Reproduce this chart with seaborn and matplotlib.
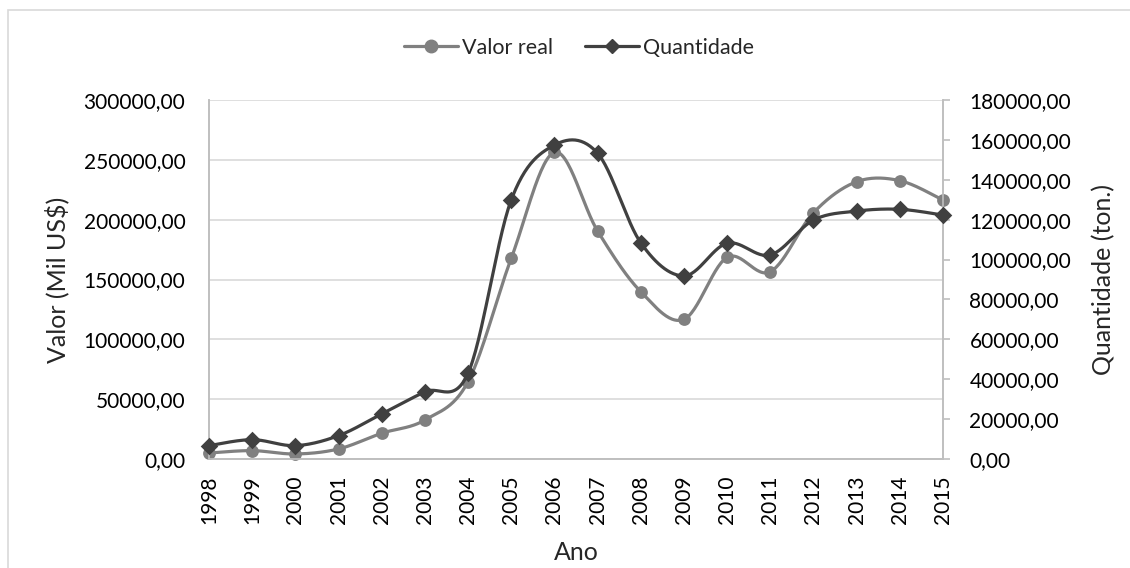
import numpy as np
import pandas as pd
import matplotlib.pyplot as plt
import seaborn as sns
from matplotlib.lines import Line2D
from matplotlib.patches import Rectangle

anos = list(range(1998, 2016))
valor_real = [5000, 7000, 4200, 8400, 21500, 32600, 64600, 167700, 256300, 190500,
              139800, 116700, 168500, 156500, 205800, 231700, 232600, 216400]
quantidade = [6700, 9700, 6700, 11700, 22600, 33700, 43000, 129900, 157400, 153300,
              108400, 91800, 108200, 102300, 119800, 124300, 125200, 122300]

cor_valor = '#808080'
cor_qtd = '#404040'


def suavizar(x, y, n=30):
    # curva tipo Catmull-Rom, parecida com a "linha suavizada" do Excel
    x = np.asarray(x, float)
    y = np.asarray(y, float)
    px = np.concatenate([[x[0]], x, [x[-1]]])
    py = np.concatenate([[y[0]], y, [y[-1]]])
    xs, ys = [], []
    t = np.linspace(0, 1, n)
    for i in range(1, len(px) - 2):
        for p, out in ((px, xs), (py, ys)):
            p0, p1, p2, p3 = p[i - 1], p[i], p[i + 1], p[i + 2]
            c1 = p1 + (p2 - p0) / 6
            c2 = p2 - (p3 - p1) / 6
            out.extend((1 - t) ** 3 * p1 + 3 * (1 - t) ** 2 * t * c1
                       + 3 * (1 - t) * t ** 2 * c2 + t ** 3 * p2)
    return np.array(xs), np.array(ys)


df = pd.DataFrame({'Ano': anos, 'Valor real': valor_real, 'Quantidade': quantidade})
sx1, sy1 = suavizar(df['Ano'], df['Valor real'])
sx2, sy2 = suavizar(df['Ano'], df['Quantidade'])
curva1 = pd.DataFrame({'x': sx1, 'y': sy1})
curva2 = pd.DataFrame({'x': sx2, 'y': sy2})

sns.set_theme(style='white')
plt.rcParams['font.family'] = ['Lato', 'DejaVu Sans']

fig = plt.figure(figsize=(11.3, 5.68), dpi=100)
ax = fig.add_axes([209 / 1130, 1 - 459 / 568, (943 - 209) / 1130, (459 - 100) / 568])
ax2 = ax.twinx()

sns.lineplot(data=curva1, x='x', y='y', ax=ax, color=cor_valor, linewidth=2.3,
             sort=False, estimator=None)
sns.scatterplot(data=df, x='Ano', y='Valor real', ax=ax, color=cor_valor, s=85,
                marker='o', edgecolor=cor_valor, linewidth=0, clip_on=False, zorder=3)
sns.lineplot(data=curva2, x='x', y='y', ax=ax2, color=cor_qtd, linewidth=2.3,
             sort=False, estimator=None)
sns.scatterplot(data=df, x='Ano', y='Quantidade', ax=ax2, color=cor_qtd, s=80,
                marker='D', edgecolor=cor_qtd, linewidth=0, clip_on=False, zorder=3)

ax.set_xlim(1998, 2015)
ax.set_ylim(0, 300000)
ax2.set_ylim(0, 180000)
ax.set_xticks(anos)
ax.set_xticklabels([str(a) for a in anos], rotation=90)
ax.set_yticks(range(0, 300001, 50000))
ax.set_yticklabels([f'{v},00' for v in range(0, 300001, 50000)])
ax2.set_yticks(range(0, 180001, 20000))
ax2.set_yticklabels([f'{v},00' for v in range(0, 180001, 20000)])

ax.grid(axis='y', color='#d9d9d9', linewidth=1.2)
ax.set_axisbelow(True)
for a in (ax, ax2):
    a.spines['top'].set_visible(False)
    for s in ('left', 'right', 'bottom'):
        a.spines[s].set_color('#bfbfbf')
        a.spines[s].set_linewidth(1.2)
ax.tick_params(axis='y', length=0, labelsize=15, colors='black', pad=17)
ax.tick_params(axis='x', length=0, labelsize=15, colors='black', pad=12)
ax2.tick_params(axis='y', length=5, width=1.2, color='#bfbfbf', labelsize=15,
                labelcolor='black', direction='out', pad=14)

ax.set_xlabel('Ano', fontsize=18, labelpad=12)
ax.set_ylabel('Valor (Mil US$)', fontsize=18, labelpad=10)
ax2.set_ylabel('Quantidade (ton.)', fontsize=18, labelpad=15)

handles = [
    Line2D([], [], color=cor_valor, linewidth=2.3, marker='o', markersize=9),
    Line2D([], [], color=cor_qtd, linewidth=2.3, marker='D', markersize=7),
]
fig.legend(handles, ['Valor real', 'Quantidade'], loc='center', ncol=2,
           bbox_to_anchor=(0.5 + 14 / 1130, 1 - 48 / 568), frameon=False, fontsize=15.5,
           handlelength=2.5, handletextpad=0.2, columnspacing=1.5)

fig.add_artist(Rectangle((8 / 1130, -0.2), 1.2, 1.2 - 10 / 568, transform=fig.transFigure,
                         fill=False, edgecolor='#d9d9d9', linewidth=1.2))

fig.savefig('out.png', dpi=100)
